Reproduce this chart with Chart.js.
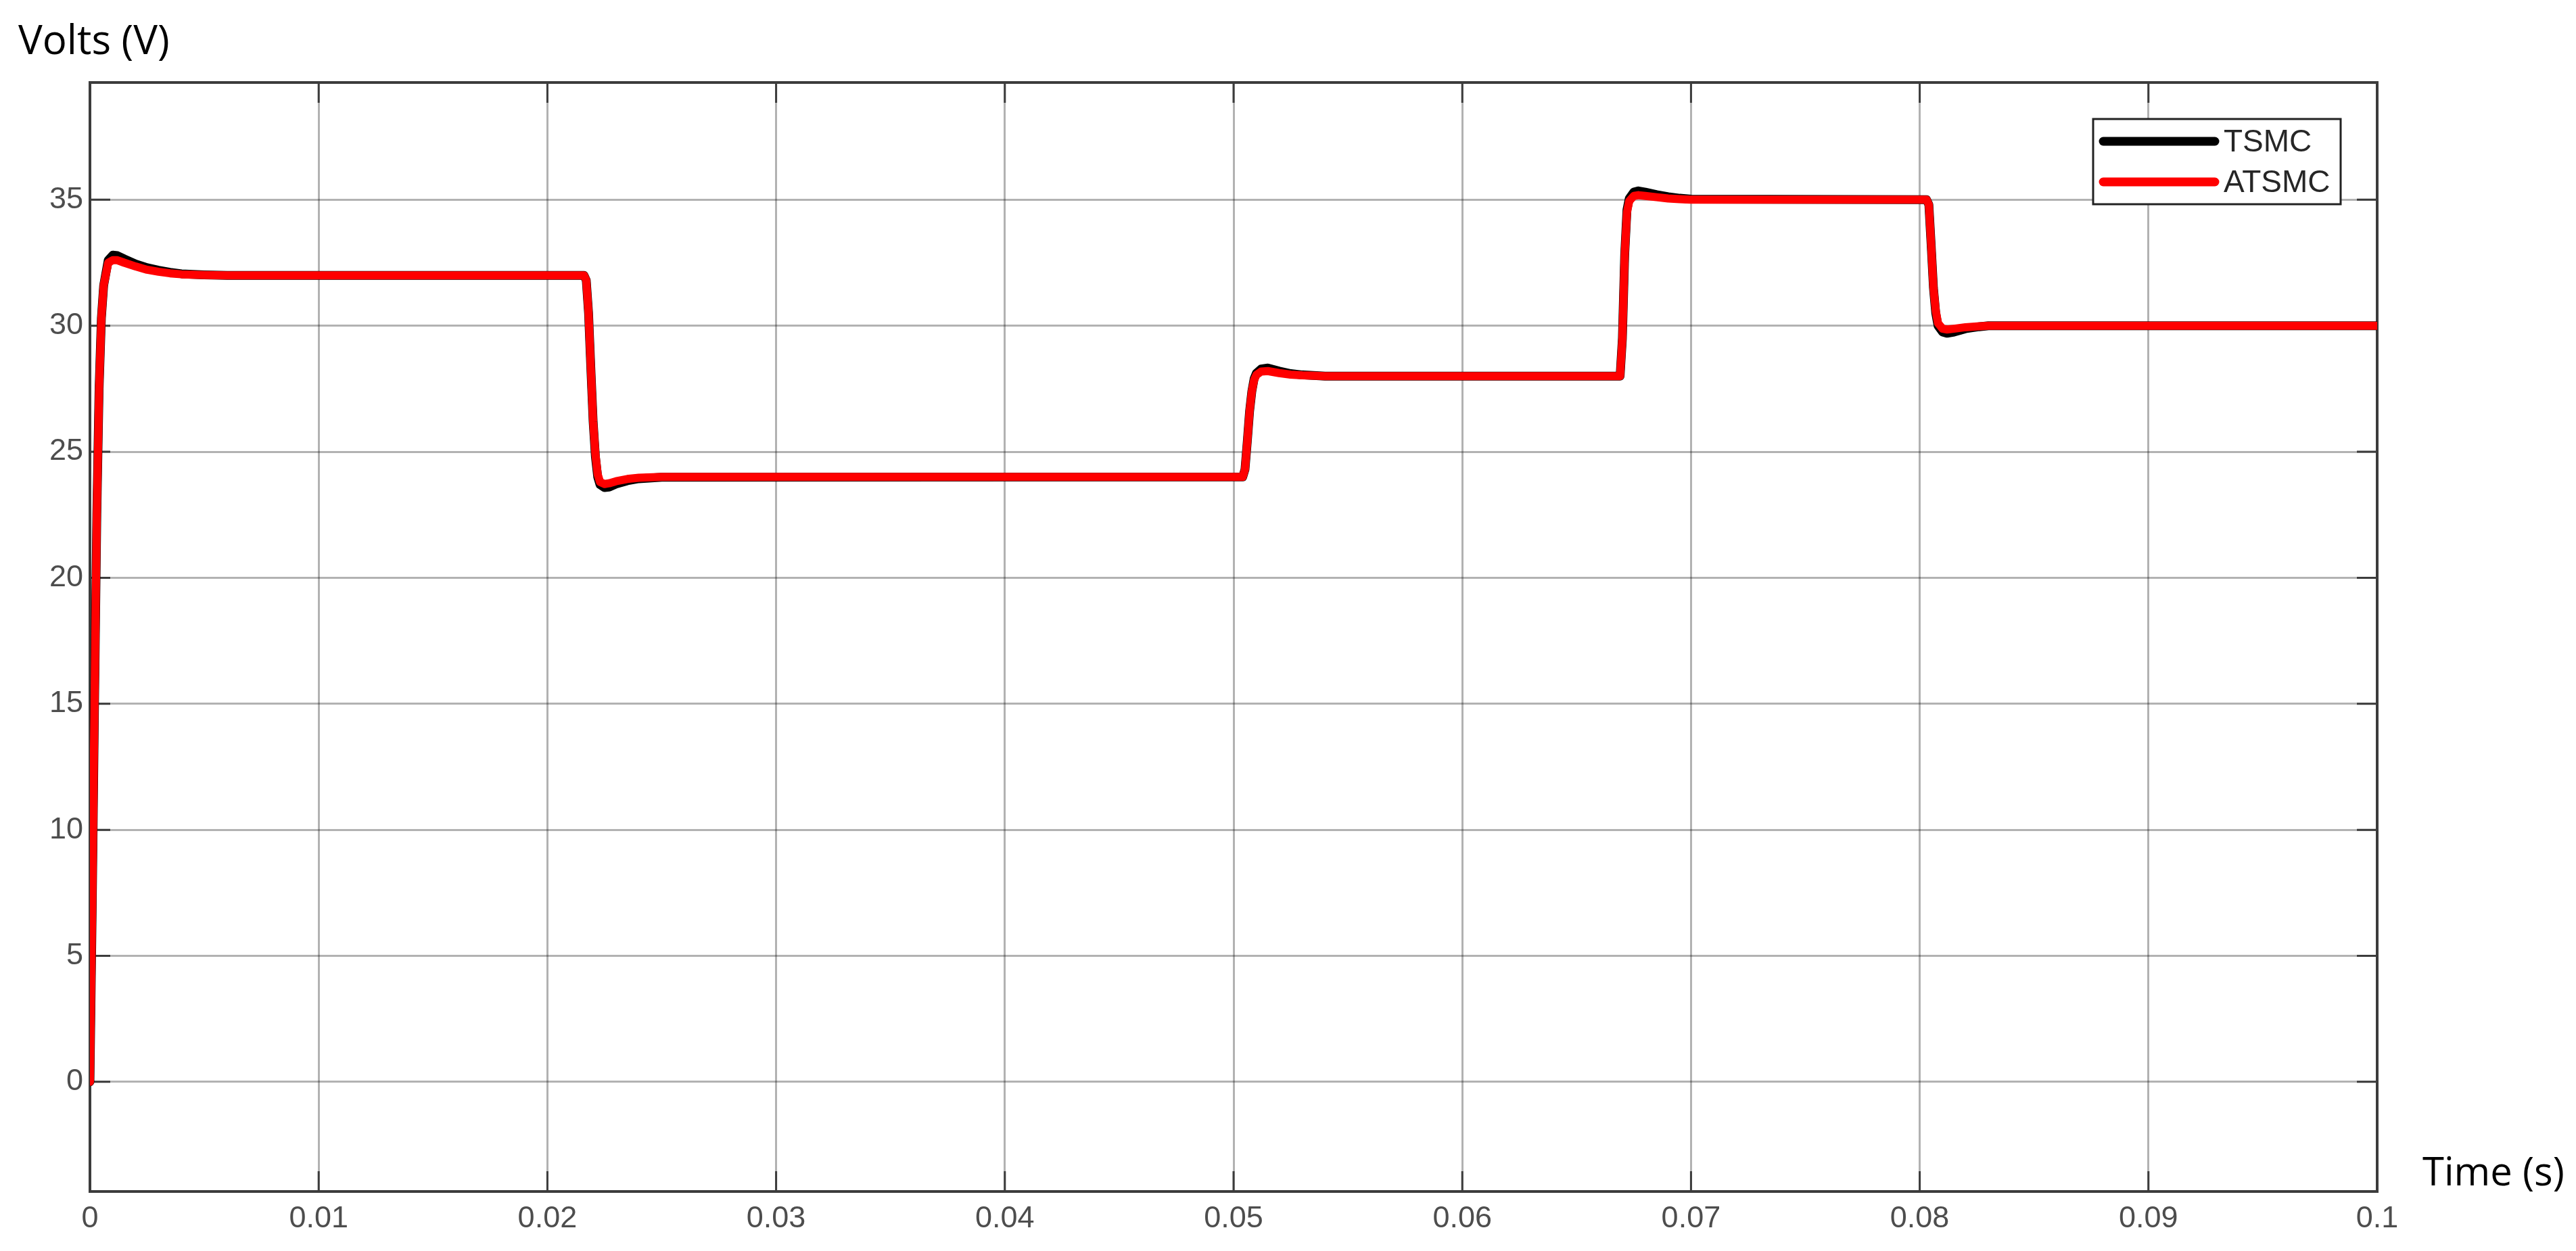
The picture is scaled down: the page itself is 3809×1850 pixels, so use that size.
<!DOCTYPE html>
<html>
<head>
<meta charset="utf-8">
<title>TSMC vs ATSMC output voltage</title>
<script src="https://cdn.jsdelivr.net/npm/chart.js@4.4.1/dist/chart.umd.min.js"></script>
<style>
  body { margin: 0; background: #fff; }
</style>
</head>
<body>
<canvas id="myChart" width="3809" height="1850"></canvas>
<script>
// Data
// ////////////

// sample times (s), shared by both controllers
const timeData = [
  0, 0.0001, 0.0002, 0.0003, 0.0004, 0.0005, 0.0006, 0.0008, 0.001, 0.0012,
  0.0015, 0.002, 0.0025, 0.003, 0.0035, 0.004, 0.005, 0.006,
  0.0216, 0.0217, 0.0218, 0.0219, 0.022, 0.0221, 0.0222, 0.0223, 0.0225, 0.0227,
  0.023, 0.0235, 0.024, 0.025,
  0.0504, 0.0505, 0.0506, 0.0507, 0.0508, 0.0509, 0.051, 0.0512, 0.0515, 0.052,
  0.0525, 0.053, 0.054,
  0.0669, 0.067, 0.0671, 0.0672, 0.0673, 0.0675, 0.0677, 0.068, 0.0685, 0.069,
  0.0695, 0.07,
  0.0803, 0.0804, 0.0805, 0.0806, 0.0807, 0.0808, 0.081, 0.0812, 0.0815, 0.082,
  0.0826, 0.083, 0.084, 0.1
];

// TSMC output voltage (V)
const tsmcVolts = [
  0, 7, 15, 22.5, 27.5, 30.3, 31.6, 32.6, 32.8, 32.78,
  32.65, 32.45, 32.3, 32.2, 32.12, 32.06, 32.02, 32,
  32, 31.8, 30.5, 28.3, 26.2, 24.8, 24.0, 23.7, 23.58, 23.6,
  23.72, 23.85, 23.93, 23.99,
  24, 24.3, 25.4, 26.6, 27.4, 27.9, 28.12, 28.28, 28.32, 28.2,
  28.1, 28.05, 28,
  28, 29.5, 32.8, 34.6, 35.05, 35.3, 35.35, 35.3, 35.2, 35.12,
  35.06, 35.02,
  35, 34.8, 33.2, 31.5, 30.5, 30.0, 29.75, 29.7, 29.75, 29.88,
  29.96, 30, 30, 30
];

// ATSMC output voltage (V)
const atsmcVolts = [
  0, 7, 15, 22.5, 27.5, 30.3, 31.6, 32.5, 32.6, 32.6,
  32.5, 32.35, 32.22, 32.14, 32.08, 32.04, 32.01, 32,
  32, 31.8, 30.5, 28.3, 26.2, 24.9, 24.1, 23.8, 23.72, 23.75,
  23.83, 23.92, 23.97, 24,
  24, 24.3, 25.4, 26.6, 27.4, 27.85, 28.05, 28.18, 28.2, 28.12,
  28.06, 28.03, 28,
  28, 29.5, 32.8, 34.5, 34.95, 35.15, 35.18, 35.15, 35.1, 35.05,
  35.02, 35,
  35, 34.8, 33.2, 31.5, 30.6, 30.1, 29.88, 29.85, 29.88, 29.94,
  29.98, 30, 30, 30
];

const seriesNames = ["TSMC", "ATSMC"];
const seriesColors = ["#000000", "#ff0000"];

const xTickLabels = ["0", "0.01", "0.02", "0.03", "0.04", "0.05", "0.06", "0.07", "0.08", "0.09", "0.1"];
const yTickLabels = ["0", "5", "10", "15", "20", "25", "30", "35"];

const xAxisTitle = "Time (s)";
const yAxisTitle = "Volts (V)";


// Chart
// ////////////

const axisColor = "#3c3c3c";
const tickFont = { family: "'Liberation Sans', Arial, sans-serif", size: 45 };

// build {x, y} points for each series
const toPoints = (values) => timeData.map((t, i) => ({ x: t, y: values[i] }));

// MATLAB style box: top/right edges plus inward tick marks on all four sides
const matlabBox = {
  id: "matlabBox",
  beforeDatasetsDraw(chart) {
    const ctx = chart.ctx;
    const { left, right, top, bottom } = chart.chartArea;
    const xs = chart.scales.x;
    const ys = chart.scales.y;
    ctx.save();
    ctx.strokeStyle = axisColor;
    ctx.lineWidth = 4;
    ctx.beginPath();
    ctx.moveTo(left - 2, top);
    ctx.lineTo(right, top);
    ctx.lineTo(right, bottom + 2);
    ctx.stroke();

    ctx.lineWidth = 3;
    ctx.beginPath();
    xs.ticks.forEach(tick => {
      const px = xs.getPixelForValue(tick.value);
      ctx.moveTo(px, bottom);
      ctx.lineTo(px, bottom - 30);
      ctx.moveTo(px, top);
      ctx.lineTo(px, top + 30);
    });
    ys.ticks.forEach(tick => {
      const py = ys.getPixelForValue(tick.value);
      ctx.moveTo(left, py);
      ctx.lineTo(left + 30, py);
      ctx.moveTo(right, py);
      ctx.lineTo(right - 30, py);
    });
    ctx.stroke();
    ctx.restore();
  },
  afterDraw(chart) {
    const ctx = chart.ctx;
    const { left, right, top, bottom } = chart.chartArea;
    ctx.save();

    // axis titles
    ctx.fillStyle = "#000";
    ctx.textBaseline = "alphabetic";
    ctx.textAlign = "left";
    ctx.font = "60px 'Open Sans', sans-serif";
    ctx.fillText(yAxisTitle, left - 106, top - 42);
    ctx.font = "58px 'Open Sans', sans-serif";
    ctx.fillText(xAxisTitle, right + 67, bottom - 9);

    // legend box, top right inside the axes
    const bx = right - 420;
    const by = top + 54;
    ctx.fillStyle = "#fff";
    ctx.fillRect(bx, by, 366, 126);
    ctx.strokeStyle = "#222";
    ctx.lineWidth = 3;
    ctx.strokeRect(bx, by, 366, 126);

    chart.data.datasets.forEach((ds, i) => {
      const ly = by + 33 + i * 60;
      ctx.strokeStyle = ds.borderColor;
      ctx.lineWidth = 13;
      ctx.lineCap = "round";
      ctx.beginPath();
      ctx.moveTo(bx + 15, ly);
      ctx.lineTo(bx + 180, ly);
      ctx.stroke();
      ctx.fillStyle = "#262626";
      ctx.font = "46px 'Liberation Sans', Arial, sans-serif";
      ctx.textBaseline = "middle";
      ctx.fillText(ds.label, bx + 193, ly + 2);
    });
    ctx.restore();
  }
};

const ctx = document.getElementById("myChart");

new Chart(ctx, {
  type: "line",
  data: {
    datasets: [{
      label: seriesNames[0],
      data: toPoints(tsmcVolts),
      borderColor: seriesColors[0],
      borderWidth: 13,
      order: 2
    }, {
      label: seriesNames[1],
      data: toPoints(atsmcVolts),
      borderColor: seriesColors[1],
      borderWidth: 12,
      order: 1
    }]
  },
  options: {
    responsive: false,
    animation: false,
    devicePixelRatio: 1,
    layout: { padding: { top: 122, right: 294, left: 0, bottom: 0 } },
    elements: {
      point: { radius: 0 },
      line: { tension: 0, borderJoinStyle: "round", borderCapStyle: "round" }
    },
    plugins: {
      legend: { display: false },
      tooltip: { enabled: false }
    },
    scales: {
      x: {
        type: "linear",
        min: 0,
        max: 0.1,
        afterFit(scale) { scale.height = 88; },
        ticks: {
          stepSize: 0.01,
          autoSkip: false,
          maxRotation: 0,
          padding: 14,
          color: "#4d4d4d",
          font: tickFont,
          callback: (value, index) => xTickLabels[index]
        },
        grid: { color: "rgba(0,0,0,0.3)", lineWidth: 3, drawTicks: false },
        border: { color: axisColor, width: 4 }
      },
      y: {
        type: "linear",
        min: -4.35,
        max: 39.65,
        afterFit(scale) { scale.width = 133; },
        ticks: {
          stepSize: 5,
          includeBounds: false,
          padding: 10,
          color: "#4d4d4d",
          font: tickFont,
          callback: (value, index) => yTickLabels[index]
        },
        grid: { color: "rgba(0,0,0,0.3)", lineWidth: 3, drawTicks: false },
        border: { color: axisColor, width: 4 }
      }
    }
  },
  plugins: [matlabBox]
});
</script>
</body>
</html>
